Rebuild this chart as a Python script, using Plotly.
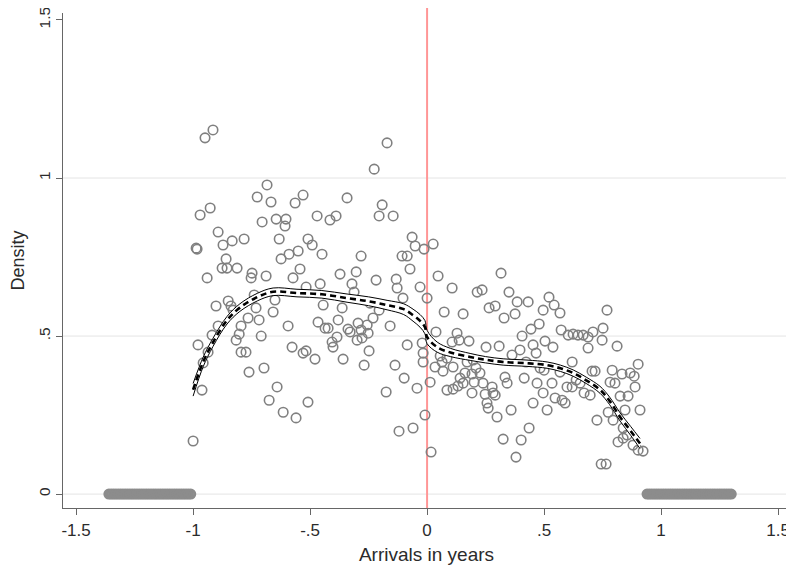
import plotly.graph_objects as go

# ---------------- data ----------------
pts_x = [
    -0.949, -0.915, -0.684, -0.726, -0.667, -0.564, -0.530, -0.970, -0.927, -0.705,
    -0.645, -0.603, -0.607, -0.893, -0.987, -0.983, -0.872, -0.833, -0.782, -0.632,
    -0.624, -0.590, -0.551, -0.859, -0.876, -0.855, -0.812, -0.940, -0.748, -0.752,
    -0.688, -0.573, -0.543, -0.517, -0.739, -0.650, -0.902, -0.850, -0.838, -0.829,
    -0.731, -0.658, -0.893, -0.765, -0.718, -0.795, -0.803, -0.816, -0.919, -0.709,
    -0.594, -0.979, -0.936, -0.795, -0.774, -0.577, -0.530, -0.517, -0.957, -0.761,
    -0.697, -0.962, -0.641, -0.675, -0.615, -0.560, -0.509, -1.000,
    -0.171, -0.226, -0.342, -0.470, -0.415, -0.389, -0.192, -0.205, -0.145, -0.509,
    -0.491, -0.449, -0.282, -0.372, -0.303, -0.064, -0.051, -0.013, -0.107, -0.085,
    -0.073, -0.218, -0.132, -0.128, -0.103, -0.030, -0.457, -0.321, -0.312, -0.444,
    -0.363, -0.244, -0.205, -0.231, -0.158, -0.380, -0.466, -0.436, -0.423, -0.338,
    -0.329, -0.295, -0.256, -0.252, -0.282, -0.299, -0.278, -0.479, -0.406, -0.385,
    -0.402, -0.359, -0.269, -0.248, -0.137, -0.098, -0.175, -0.085, -0.021, -0.017,
    -0.043, -0.120, -0.060, -0.009, 0.017,
    0.026, 0.047, 0.107, 0.316, 0.214, 0.235, 0.350, 0.385, 0.432, 0.265,
    0.291, 0.329, 0.376, 0.073, 0.154, 0.000, 0.406, 0.444, 0.504, 0.038,
    0.128, 0.137, 0.179, 0.107, 0.308, 0.252, -0.017, 0.056, 0.064, 0.085,
    0.034, 0.068, 0.111, 0.171, 0.197, 0.209, 0.363, 0.397, 0.453, 0.466,
    0.423, 0.500, 0.162, 0.192, 0.226, 0.141, 0.154, 0.132, 0.111, 0.085,
    0.201, 0.239, 0.333, 0.342, 0.415, 0.470, 0.496, 0.192, 0.248, 0.278,
    0.282, 0.256, 0.291, 0.453, 0.513, 0.013, 0.261, 0.299, 0.359, 0.436,
    0.402, 0.325, 0.380,
    0.521, 0.543, 0.568, 0.496, 0.479, 0.769, 0.573, 0.603, 0.624, 0.645,
    0.667, 0.688, 0.709, 0.752, 0.748, 0.688, 0.812, 0.538, 0.620, 0.705,
    0.718, 0.791, 0.833, 0.868, 0.885, 0.902, 0.889, 0.782, 0.803, 0.825,
    0.859, 0.910, 0.846, 0.774, 0.795, 0.726, 0.838, 0.855, 0.816, 0.838,
    0.880, 0.902, 0.923, 0.744, 0.765, 0.534, 0.547, 0.577, 0.590, 0.598,
    0.620, 0.654, 0.671, 0.697, 0.637, 0.568, 0.483,
]
pts_y = [
    1.127, 1.152, 0.978, 0.940, 0.924, 0.921, 0.946, 0.883, 0.905, 0.861,
    0.870, 0.870, 0.848, 0.829, 0.778, 0.775, 0.788, 0.801, 0.807, 0.807,
    0.744, 0.759, 0.769, 0.744, 0.715, 0.715, 0.715, 0.684, 0.699, 0.684,
    0.690, 0.684, 0.712, 0.655, 0.630, 0.614, 0.595, 0.611, 0.595, 0.582,
    0.589, 0.576, 0.532, 0.557, 0.551, 0.532, 0.506, 0.487, 0.503, 0.500,
    0.532, 0.472, 0.449, 0.449, 0.449, 0.465, 0.446, 0.453, 0.415, 0.386,
    0.399, 0.329, 0.339, 0.297, 0.259, 0.241, 0.291, 0.168,
    1.111, 1.028, 0.937, 0.880, 0.867, 0.880, 0.915, 0.880, 0.880, 0.807,
    0.788, 0.759, 0.753, 0.696, 0.703, 0.813, 0.785, 0.775, 0.753, 0.753,
    0.712, 0.677, 0.680, 0.652, 0.620, 0.655, 0.665, 0.665, 0.639, 0.598,
    0.589, 0.604, 0.582, 0.557, 0.532, 0.551, 0.544, 0.525, 0.525, 0.522,
    0.513, 0.541, 0.535, 0.509, 0.519, 0.487, 0.494, 0.427, 0.481, 0.497,
    0.465, 0.427, 0.408, 0.453, 0.408, 0.367, 0.323, 0.472, 0.478, 0.446,
    0.335, 0.199, 0.209, 0.250, 0.133,
    0.791, 0.690, 0.652, 0.699, 0.639, 0.646, 0.639, 0.608, 0.608, 0.589,
    0.595, 0.557, 0.570, 0.576, 0.570, 0.620, 0.500, 0.522, 0.484, 0.513,
    0.509, 0.487, 0.484, 0.481, 0.468, 0.465, 0.418, 0.437, 0.418, 0.430,
    0.402, 0.389, 0.402, 0.418, 0.424, 0.399, 0.440, 0.456, 0.472, 0.446,
    0.418, 0.392, 0.383, 0.380, 0.383, 0.367, 0.351, 0.342, 0.332, 0.329,
    0.354, 0.351, 0.370, 0.351, 0.367, 0.351, 0.320, 0.320, 0.316, 0.339,
    0.320, 0.288, 0.313, 0.288, 0.266, 0.354, 0.272, 0.244, 0.266, 0.209,
    0.171, 0.174, 0.117,
    0.623, 0.598, 0.573, 0.582, 0.538, 0.582, 0.519, 0.503, 0.506, 0.503,
    0.503, 0.497, 0.513, 0.525, 0.487, 0.462, 0.468, 0.465, 0.418, 0.389,
    0.389, 0.392, 0.380, 0.383, 0.373, 0.411, 0.339, 0.354, 0.351, 0.310,
    0.310, 0.266, 0.266, 0.259, 0.234, 0.234, 0.209, 0.187, 0.165, 0.177,
    0.155, 0.139, 0.136, 0.095, 0.095, 0.351, 0.304, 0.297, 0.288, 0.339,
    0.339, 0.351, 0.320, 0.313, 0.361, 0.386, 0.399,
]

# empty bins (density 0) outside the support
zero_left_x = [-1.36, -1.35, -1.34, -1.33, -1.32, -1.31, -1.30, -1.29, -1.28, -1.27,
               -1.26, -1.25, -1.24, -1.23, -1.22, -1.21, -1.20, -1.19, -1.18, -1.17,
               -1.16, -1.15, -1.14, -1.13, -1.12, -1.11, -1.10, -1.09, -1.08, -1.07,
               -1.06, -1.05, -1.04, -1.03, -1.02, -1.01]
zero_right_x = [0.94, 0.95, 0.96, 0.97, 0.98, 0.99, 1.00, 1.01, 1.02, 1.03,
                1.04, 1.05, 1.06, 1.07, 1.08, 1.09, 1.10, 1.11, 1.12, 1.13,
                1.14, 1.15, 1.16, 1.17, 1.18, 1.19, 1.20, 1.21, 1.22, 1.23,
                1.24, 1.25, 1.26, 1.27, 1.28, 1.29, 1.30]
zero_x = zero_left_x + zero_right_x
zero_y = [0.0] * len(zero_x)

# local polynomial fit and its confidence band
fit_x = [-1.0, -0.957, -0.915, -0.855, -0.8, -0.726, -0.658, -0.556, -0.45, -0.342,
         -0.25, -0.171, -0.1, -0.06, -0.03, -0.009, 0.0, 0.043, 0.1, 0.184,
         0.25, 0.325, 0.427, 0.513, 0.57, 0.624, 0.68, 0.739, 0.78, 0.825,
         0.87, 0.91]
fit_y = [0.33, 0.418, 0.48, 0.55, 0.59, 0.623, 0.64, 0.636, 0.632, 0.62,
         0.61, 0.598, 0.585, 0.566, 0.548, 0.528, 0.497, 0.465, 0.448, 0.434,
         0.425, 0.418, 0.414, 0.408, 0.398, 0.383, 0.36, 0.33, 0.295, 0.244,
         0.2, 0.16]
ci_lo = [0.31, 0.403, 0.467, 0.538, 0.578, 0.611, 0.628, 0.624, 0.62, 0.607,
         0.596, 0.583, 0.568, 0.547, 0.528, 0.507, 0.476, 0.449, 0.435, 0.423,
         0.415, 0.408, 0.404, 0.398, 0.388, 0.373, 0.35, 0.319, 0.283, 0.231,
         0.186, 0.144]
ci_hi = [0.35, 0.433, 0.493, 0.562, 0.602, 0.635, 0.652, 0.648, 0.644, 0.633,
         0.624, 0.613, 0.602, 0.585, 0.568, 0.549, 0.518, 0.481, 0.461, 0.445,
         0.435, 0.428, 0.424, 0.418, 0.408, 0.393, 0.37, 0.341, 0.307, 0.257,
         0.214, 0.176]

x_ticks = [-1.5, -1, -0.5, 0, 0.5, 1, 1.5]
x_ticktext = ["-1.5", "-1", "-.5", "0", ".5", "1", "1.5"]
y_ticks = [0, 0.5, 1, 1.5]
y_ticktext = ["0", ".5", "1", "1.5"]
grid_vals = [0, 0.5, 1]
cutoff = 0

# ---------------- figure ----------------
GRAY = "rgb(128,128,128)"
fig = go.Figure()

fig.add_trace(go.Scatter(
    x=zero_x, y=zero_y, mode="markers",
    marker=dict(symbol="circle-open", size=8, color="rgb(140,140,140)",
                line=dict(width=3)),
    hoverinfo="skip"))

fig.add_trace(go.Scatter(
    x=pts_x, y=pts_y, mode="markers",
    marker=dict(symbol="circle-open", size=9.5, color=GRAY,
                line=dict(width=1.6)),
    hoverinfo="skip"))

# confidence band (white fill with thin black borders)
fig.add_trace(go.Scatter(x=fit_x, y=ci_lo, mode="lines",
                         line=dict(color="black", width=1, shape="spline"),
                         hoverinfo="skip"))
fig.add_trace(go.Scatter(x=fit_x, y=ci_hi, mode="lines", fill="tonexty",
                         fillcolor="rgba(255,255,255,1)",
                         line=dict(color="black", width=1, shape="spline"),
                         hoverinfo="skip"))
fig.add_trace(go.Scatter(x=fit_x, y=fit_y, mode="lines",
                         line=dict(color="black", width=2.6, dash="6px,4px",
                                   shape="spline"),
                         hoverinfo="skip"))

shapes = []
for g in grid_vals:
    shapes.append(dict(type="line", xref="paper", x0=0, x1=1, yref="y", y0=g, y1=g,
                       line=dict(color="rgb(228,228,228)", width=1), layer="below"))
shapes.append(dict(type="line", xref="x", x0=cutoff, x1=cutoff, yref="paper",
                   y0=0, y1=1.01, line=dict(color="rgb(255,150,150)", width=2),
                   layer="below"))

# the page body adds an 8px offset, so the figure is sized to fit the window
fig.update_layout(
    width=786, height=562,
    margin=dict(l=55, r=4, t=5, b=62),
    plot_bgcolor="white", paper_bgcolor="white",
    showlegend=False,
    font=dict(family="Liberation Sans, Arial, sans-serif", color="#2b2b2b"),
    shapes=shapes,
    xaxis=dict(range=[-1.556, 1.551], tickvals=x_ticks, ticktext=x_ticktext,
               ticks="outside", ticklen=6, tickcolor="#666", tickwidth=1.2,
               showline=True, linecolor="#666", linewidth=1.2, automargin=False,
               showgrid=False, zeroline=False, tickfont=dict(size=17),
               ticklabeloverflow="allow",
               title=dict(text="Arrivals in years", font=dict(size=19), standoff=9)),
    yaxis=dict(range=[-0.044, 1.522], tickvals=y_ticks, ticktext=y_ticktext,
               tickangle=-90, ticks="outside", ticklen=6, tickcolor="#666",
               tickwidth=1.2, showline=True, linecolor="#666", linewidth=1.2,
               automargin=False, ticklabeloverflow="allow",
               showgrid=False, zeroline=False, tickfont=dict(size=15.5),
               title=dict(text="Density", font=dict(size=18), standoff=7)),
)

fig.write_html("out.html")
